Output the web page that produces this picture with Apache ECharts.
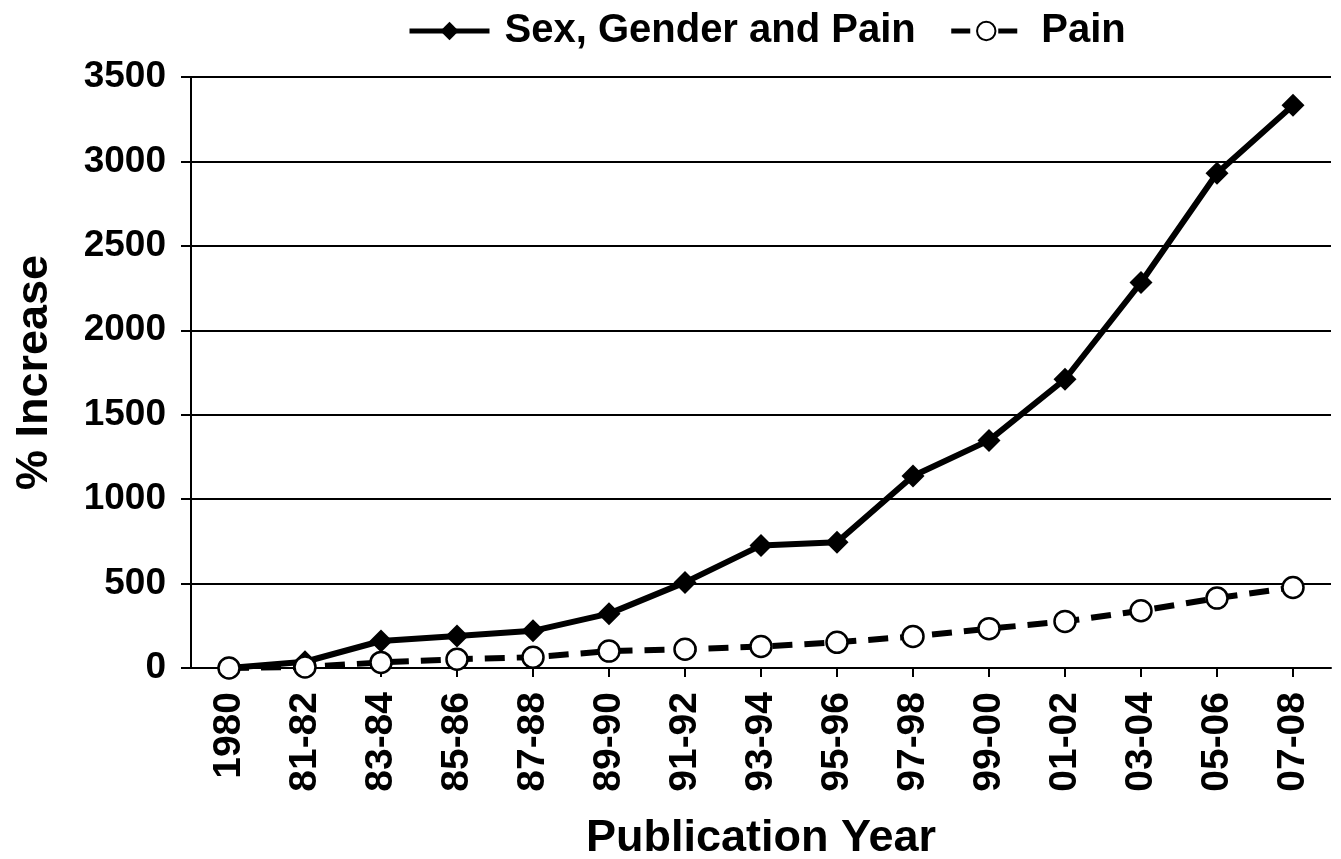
<!DOCTYPE html>
<html>
<head>
<meta charset="utf-8">
<style>
  html, body { margin: 0; padding: 0; background: #fff; }
  #chart { width: 1341px; height: 859px; }
</style>
<script src="https://cdn.jsdelivr.net/npm/echarts@6/dist/echarts.min.js"></script>
</head>
<body>
<div id="chart"></div>
<script>
const categories = ['1980','81-82','83-84','85-86','87-88','89-90','91-92','93-94','95-96','97-98','99-00','01-02','03-04','05-06','07-08'];
const sexGenderPain = [0, 37, 160, 190, 220, 322, 507, 726, 745, 1137, 1348, 1710, 2283, 2930, 3332];
const pain = [0, 6, 33, 52, 64, 100, 111, 127, 152, 187, 233, 276, 339, 414, 477];
const yTicks = { min: 0, max: 3500, interval: 500 };

const FONT = '"Liberation Sans", Arial, sans-serif';
const chart = echarts.init(document.getElementById('chart'), null, { renderer: 'canvas' });
chart.setOption({
  animation: false,
  backgroundColor: '#ffffff',
  legend: {
    top: 6,
    left: 402,
    itemWidth: 80,
    itemHeight: 23,
    itemGap: 28,
    lineStyle: { width: 5 },
    textStyle: { fontFamily: FONT, fontWeight: 'bold', fontSize: 40, color: '#000', padding: [0, 0, 0, 10] },
    data: [
      { name: 'Sex, Gender and Pain' },
      { name: 'Pain', lineStyle: { width: 5, type: [19, 28], dashOffset: 42 } }
    ]
  },
  grid: { left: 191, right: 10, top: 77, bottom: 191, containLabel: false, outerBoundsMode: 'none' },
  xAxis: {
    type: 'category',
    data: categories,
    boundaryGap: true,
    name: 'Publication Year',
    nameLocation: 'middle',
    nameGap: 148,
    nameTextStyle: { fontFamily: FONT, fontWeight: 'bold', fontSize: 45, color: '#000' },
    axisLine: { show: true, lineStyle: { color: '#000', width: 2 } },
    axisTick: { show: true, alignWithLabel: true, length: 9, lineStyle: { color: '#000', width: 2 } },
    axisLabel: { rotate: 90, margin: 24, fontFamily: FONT, fontWeight: 'bold', fontSize: 39, color: '#000' },
    splitLine: { show: false }
  },
  yAxis: {
    type: 'value',
    min: yTicks.min,
    max: yTicks.max,
    interval: yTicks.interval,
    name: '% Increase',
    nameLocation: 'middle',
    nameGap: 134,
    nameTextStyle: { fontFamily: FONT, fontWeight: 'bold', fontSize: 45, color: '#000' },
    axisLine: { show: true, lineStyle: { color: '#000', width: 2 } },
    axisTick: { show: true, length: 10, lineStyle: { color: '#000', width: 2 } },
    axisLabel: { margin: 25, fontFamily: FONT, fontWeight: 'bold', fontSize: 37, color: '#000', formatter: v => String(v) },
    splitLine: { show: true, lineStyle: { color: '#000', width: 2 } }
  },
  series: [
    {
      name: 'Sex, Gender and Pain',
      type: 'line',
      data: sexGenderPain,
      symbol: 'diamond',
      symbolSize: 23,
      itemStyle: { color: '#000' },
      lineStyle: { color: '#000', width: 6 },
      z: 3
    },
    {
      name: 'Pain',
      type: 'line',
      data: pain,
      symbol: 'circle',
      symbolSize: 21,
      itemStyle: { color: '#fff', borderColor: '#000', borderWidth: 2.5 },
      lineStyle: { color: '#000', width: 6, type: [20, 12] },
      z: 4
    }
  ]
});
</script>
</body>
</html>
